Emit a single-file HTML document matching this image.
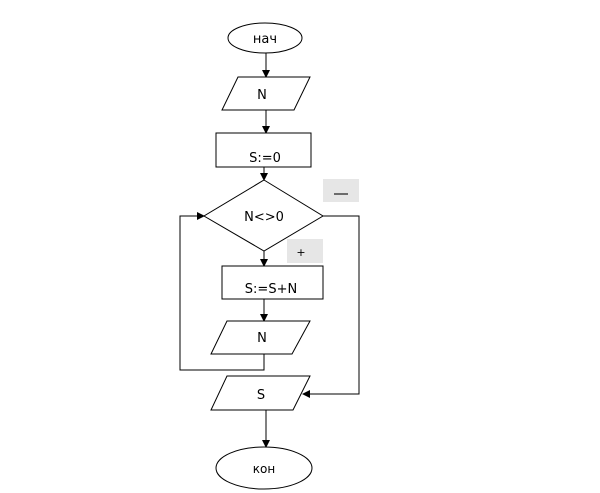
<!DOCTYPE html>
<html><head><meta charset="utf-8"><style>body{margin:0;background:#fff}svg{display:block}</style></head>
<body>
<svg width="600" height="493" viewBox="0 0 600 493" xmlns="http://www.w3.org/2000/svg" font-family="DejaVu Sans, Liberation Sans, sans-serif" font-size="13" fill="none" stroke="#000" stroke-width="1">
<defs><marker id="a" markerWidth="8" markerHeight="8" refX="7" refY="4" orient="auto" markerUnits="userSpaceOnUse"><path d="M0,0 L8,4 L0,8 z" fill="#000" stroke="none"/></marker></defs>
<rect x="323" y="179" width="36" height="23" fill="#e6e6e6" stroke="none"/>
<line x1="334" y1="194" x2="348" y2="194" stroke="#444" stroke-width="1.5"/>
<rect x="287" y="239" width="36" height="24" fill="#e6e6e6" stroke="none"/>
<text x="301" y="256" font-size="11" fill="#000" stroke="none" text-anchor="middle">+</text>
<ellipse cx="265" cy="38" rx="37" ry="15" fill="#fff"/>
<text x="265" y="43" text-anchor="middle" fill="#000" stroke="none">нач</text>
<line x1="266" y1="53" x2="266" y2="77" marker-end="url(#a)"/>
<polygon points="238,77 310,77 294,110 222,110" fill="#fff"/>
<text x="262" y="99" text-anchor="middle" fill="#000" stroke="none">N</text>
<line x1="266" y1="110" x2="266" y2="133" marker-end="url(#a)"/>
<rect x="216" y="133" width="95" height="34" fill="#fff"/>
<text x="265" y="162" text-anchor="middle" fill="#000" stroke="none">S:=0</text>
<line x1="264" y1="167" x2="264" y2="180" marker-end="url(#a)"/>
<polygon points="264,180 323,216 264,251 204,216" fill="#fff"/>
<text x="264" y="221" text-anchor="middle" fill="#000" stroke="none">N&lt;&gt;0</text>
<line x1="264" y1="251" x2="264" y2="266" marker-end="url(#a)"/>
<rect x="222" y="266" width="101" height="33" fill="#fff"/>
<text x="271" y="293" text-anchor="middle" fill="#000" stroke="none">S:=S+N</text>
<line x1="264" y1="299" x2="264" y2="321" marker-end="url(#a)"/>
<polygon points="227,321 310,321 292,354 211,354" fill="#fff"/>
<text x="262" y="342" text-anchor="middle" fill="#000" stroke="none">N</text>
<polyline points="264,354 264,370 180,370 180,216 204,216" marker-end="url(#a)"/>
<polyline points="323,216 359,216 359,394 303,394" marker-end="url(#a)"/>
<polygon points="227,376 310,376 293,410 211,410" fill="#fff"/>
<text x="261" y="399" text-anchor="middle" fill="#000" stroke="none">S</text>
<line x1="266" y1="410" x2="266" y2="447" marker-end="url(#a)"/>
<ellipse cx="264" cy="468" rx="48" ry="21" fill="#fff"/>
<text x="264" y="473" text-anchor="middle" font-size="12" fill="#000" stroke="none">кон</text>
</svg>
</body></html>
